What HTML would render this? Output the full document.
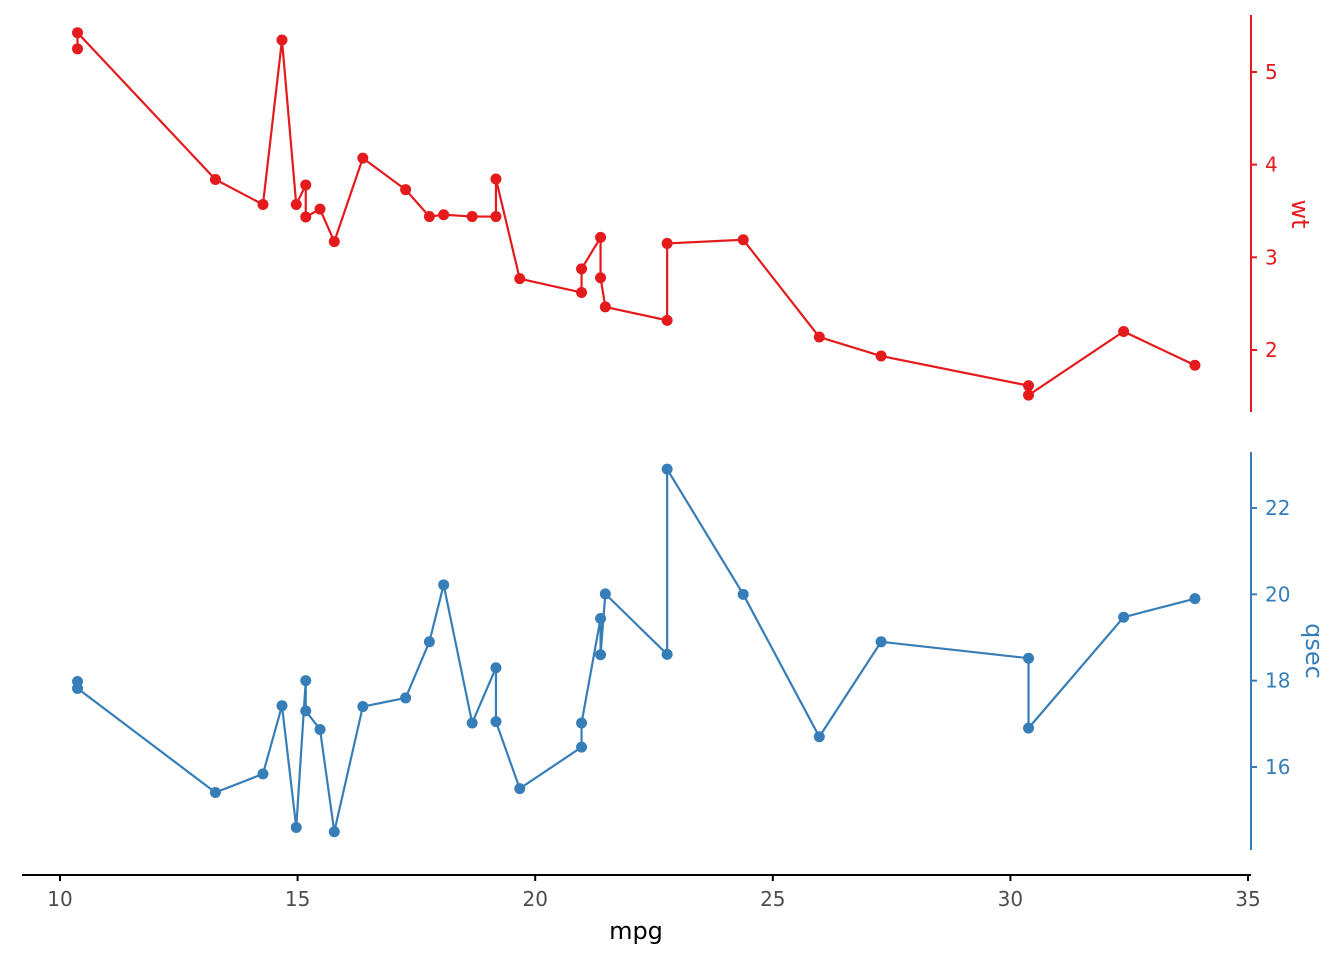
<!DOCTYPE html>
<html><head><meta charset="utf-8">
<style>
html,body{margin:0;padding:0;background:#fff;}
svg{display:block;font-family:"DejaVu Sans","Liberation Sans",sans-serif;}
</style></head>
<body>
<svg id="chart" width="1344" height="960" viewBox="0 0 1344 960" xmlns="http://www.w3.org/2000/svg">
<g id="top"></g>
<g id="bot"></g>
<g id="xax"></g>
</svg>
<script>
const mpg  = [21.0,21.0,22.8,21.4,18.7,18.1,14.3,24.4,22.8,19.2,17.8,16.4,17.3,15.2,10.4,10.4,14.7,32.4,30.4,33.9,21.5,15.5,15.2,13.3,19.2,27.3,26.0,30.4,15.8,19.7,15.0,21.4];
const wt   = [2.620,2.875,2.320,3.215,3.440,3.460,3.570,3.190,3.150,3.440,3.440,4.070,3.730,3.780,5.250,5.424,5.345,2.200,1.615,1.835,2.465,3.520,3.435,3.840,3.845,1.935,2.140,1.513,3.170,2.770,3.570,2.780];
const qsec = [16.46,17.02,18.61,19.44,17.02,20.22,15.84,20.00,22.90,18.30,18.90,17.40,17.60,18.00,17.98,17.82,17.42,19.47,18.52,19.90,20.01,16.87,17.30,15.41,17.05,18.90,16.70,16.90,14.50,15.50,14.60,18.60];
const xTicks = [10,15,20,25,30,35];
const wtTicks = [2,3,4,5];
const qsecTicks = [16,18,20,22];

const NS="http://www.w3.org/2000/svg";
function el(tag,attrs,parent){const e=document.createElementNS(NS,tag);for(const k in attrs)e.setAttribute(k,attrs[k]);parent.appendChild(e);return e;}
const xS=v=>58.5+(v-10)*47.55;
const xT=v=>60+(v-10)*47.52;
const wtS=v=>350-(v-2)*92.67;
const qS=v=>767-(v-16)*43.17;

const order=mpg.map((_,i)=>i).sort((a,b)=>mpg[a]-mpg[b]);

function panel(g,vals,yS,ticks,color,y0,y1,label,lx,ly){
  const pts=order.map(i=>xS(mpg[i]).toFixed(2)+","+yS(vals[i]).toFixed(2)).join(" ");
  const line=el("polyline",{points:pts,fill:"none",stroke:color,"stroke-width":2.2},g);
  
  
  order.forEach(i=>{
    const c=el("circle",{cx:xS(mpg[i]),cy:yS(vals[i]),r:5.5,fill:color},g);
    
    
  });
  const ax=el("line",{x1:1251,x2:1251,y1:y0,y2:y1,stroke:color,"stroke-width":2},g);
  
  
  ticks.forEach(t=>{
    const tk=el("line",{x1:1251,x2:1257,y1:yS(t),y2:yS(t),stroke:color,"stroke-width":2},g);
    
    
    const tx=el("text",{x:1265,y:yS(t)+7,fill:color,"font-size":20},g);
    tx.textContent=t;
    
    
  });
  const tl=el("text",{x:lx,y:ly,fill:color,"font-size":24,"text-anchor":"middle",transform:`rotate(90 ${lx} ${ly})`},g);
  tl.textContent=label;
  
  
}
panel(document.getElementById("top"),wt,wtS,wtTicks,"#E41A1C",15,412,"wt",1292,214);
panel(document.getElementById("bot"),qsec,qS,qsecTicks,"#377EB8",452,850,"qsec",1306,651);

const xa=document.getElementById("xax");
const xl=el("line",{x1:22,x2:1251,y1:875,y2:875,stroke:"#000","stroke-width":2},xa);


xTicks.forEach(t=>{
  const tk=el("line",{x1:xT(t),x2:xT(t),y1:875,y2:881,stroke:"#000","stroke-width":2},xa);
  
  
  const tx=el("text",{x:xT(t),y:906,fill:"#4d4d4d","font-size":20,"text-anchor":"middle"},xa);
  tx.textContent=t;
  
  
});
const xt=el("text",{x:636,y:939,fill:"#000","font-size":24,"text-anchor":"middle"},xa);
xt.textContent="mpg";


</script>
</body></html>
